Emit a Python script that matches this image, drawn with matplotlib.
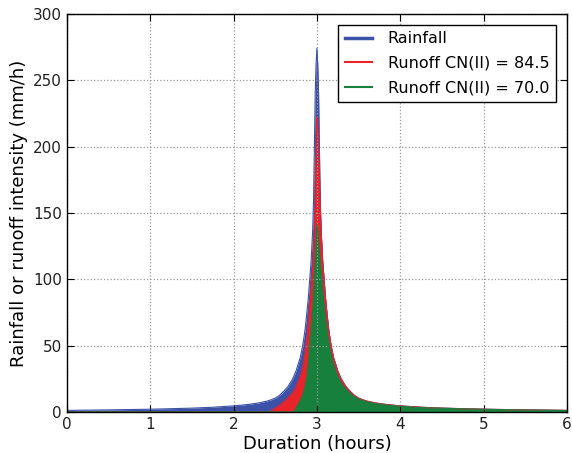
import numpy as np
import matplotlib
matplotlib.use('Agg')
import matplotlib.pyplot as plt

# time grid (hours) and intensities (mm/h)
hours = [0.0, 0.5, 1.0, 1.5, 1.75, 2.0, 2.1, 2.2, 2.3, 2.4, 2.43, 2.45, 2.5,
         2.55, 2.6, 2.65, 2.7, 2.72, 2.75, 2.8, 2.82, 2.84, 2.86, 2.88, 2.9,
         2.91, 2.92, 2.93, 2.94, 2.95, 2.96, 2.97, 2.98, 2.99, 3.0,
         3.01, 3.02, 3.03, 3.04, 3.05, 3.06, 3.07, 3.08, 3.09, 3.1, 3.12,
         3.14, 3.16, 3.18, 3.2, 3.25, 3.28, 3.3, 3.35, 3.4, 3.45, 3.5, 3.55,
         3.57, 3.6, 3.7, 3.8, 3.9, 4.0, 4.25, 4.5, 5.0, 5.5, 6.0]
rainfall = [1.2, 1.6, 2.1, 2.9, 3.6, 4.6, 5.2, 5.9, 6.8, 8.2, 8.8, 9.2, 10.5,
            12.5, 15.5, 19, 24, 26.5, 31, 41, 47, 54, 63, 75, 88,
            97, 105, 113, 125, 138, 160, 200, 240, 262, 274,
            262, 240, 200, 160, 138, 125, 113, 105, 97, 88, 75,
            63, 54, 47, 41, 31, 26.5, 24, 19, 15.5, 12.5, 10.5, 9.2,
            8.8, 8.2, 6.8, 5.9, 5.2, 4.6, 3.6, 2.9, 2.1, 1.6, 1.2]
runoff_845 = [0, 0, 0, 0, 0, 0, 0, 0, 0, 0, 0, 1, 3,
              5, 7.5, 10.5, 14, 15.5, 19, 27, 31, 37, 46, 56, 70,
              78, 86, 94, 101, 110, 122, 140, 170, 200, 222,
              215, 200, 180, 155, 138, 125, 113, 105, 97, 88, 75,
              63, 54, 47, 41, 31, 26.5, 24, 19, 15.5, 12.5, 10.5, 9.2,
              8.8, 8.2, 6.8, 5.9, 5.2, 4.6, 3.6, 2.9, 2.1, 1.6, 1.2]
runoff_700 = [0, 0, 0, 0, 0, 0, 0, 0, 0, 0, 0, 0, 0,
              0, 0, 0, 0, 0, 3, 9, 11.5, 15, 20, 27, 40,
              48, 55, 62, 70, 79, 90, 103, 115, 128, 141,
              136, 128, 120, 112, 105, 98, 90, 83, 77, 71, 62,
              53, 46, 40, 35.5, 27, 23, 21, 17, 14, 11.5, 9.8, 8.6,
              8.2, 7.7, 6.4, 5.6, 4.9, 4.4, 3.4, 2.8, 2.0, 1.5, 1.15]

series = [
    (rainfall, '#3b52a8', 'Rainfall', 2.5),
    (runoff_845, '#e8232a', 'Runoff CN(II) = 84.5', 1.5),
    (runoff_700, '#17803c', 'Runoff CN(II) = 70.0', 1.5),
]

fig = plt.figure(figsize=(5.72, 4.53), dpi=100)
ax = fig.add_axes([0.117, 0.0905, 0.874, 0.879])

t = np.array(hours)
for vals, col, lab, lw in series:
    v = np.array(vals, dtype=float)
    ax.fill_between(t, 0, v, color=col, linewidth=0)
    ax.plot(t, v, color=col, lw=0.8)
    ax.plot([], [], color=col, lw=lw, label=lab)

ax.set_xlim(0, 6)
ax.set_ylim(0, 300)
ax.set_xticks(range(7))
ax.set_yticks(range(0, 301, 50))
ax.grid(True, ls=':', color='#999999', lw=0.9)
ax.tick_params(direction='in', top=True, right=True, labelsize=11, length=5,
               labelcolor='#222222')
for s in ax.spines.values():
    s.set_linewidth(1.0)
ax.set_xlabel('Duration (hours)', fontsize=13, labelpad=2)
ax.set_ylabel('Rainfall or runoff intensity (mm/h)', fontsize=13)

leg = ax.legend(loc='upper right', fontsize=11.5, fancybox=False, edgecolor='black',
                framealpha=1, borderaxespad=0.7, handlelength=1.7, handletextpad=1.0,
                labelspacing=0.6)
leg.get_frame().set_linewidth(1.0)

fig.savefig('out.png', dpi=100)
